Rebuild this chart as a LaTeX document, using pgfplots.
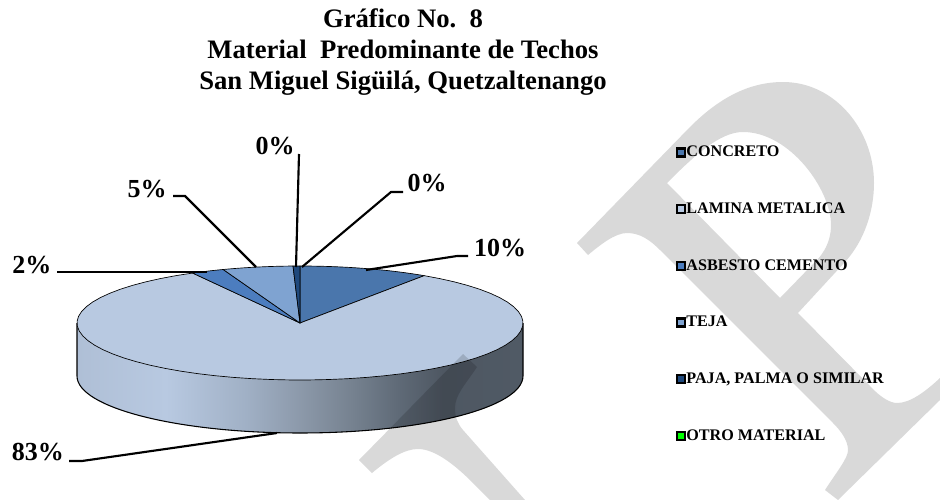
\documentclass[border=0pt]{standalone}
\usepackage{fontspec}
\setmainfont{Liberation Serif}
\usepackage{pgfplots}
\pgfplotsset{compat=1.18}

\definecolor{cConcreto}{HTML}{4A76AC}
\definecolor{cLamina}{HTML}{B8C9E1}
\definecolor{cAsbesto}{HTML}{4C7DBF}
\definecolor{cTeja}{HTML}{7FA3D1}
\definecolor{cPaja}{HTML}{1F497D}
\definecolor{cOtro}{HTML}{00FF00}
\definecolor{cMark}{HTML}{D9D9D9}
\definecolor{sA}{HTML}{A0B0C5}
\definecolor{sB}{HTML}{8C99AA}
\definecolor{sC}{HTML}{75818F}
\definecolor{sD}{HTML}{5F6A77}
\definecolor{sE}{HTML}{4E5762}
\definecolor{sF}{HTML}{505A65}

\pgfdeclarehorizontalshading{pieside}{100bp}{
  color(0bp)=(cLamina!95!black);
  color(25bp)=(cLamina!95!black);
  color(35bp)=(cLamina);
  color(44bp)=(sA);
  color(50bp)=(sB);
  color(56bp)=(sC);
  color(61bp)=(sD);
  color(66bp)=(sE);
  color(75bp)=(sF);
  color(100bp)=(sF)
}

% one slice, from and to in percent, clockwise from the top
\newcommand{\slice}[3]{
  \addplot[fill=#1, draw=black, line width=0.5pt, domain={90-3.6*#3}:{90-3.6*#2}, samples=61, variable=\t]
    ({300+223*cos(\t)},{323-57*sin(\t)}) -- (axis cs:300,323) -- cycle;
}
\newcommand{\leader}[1]{\addplot[black, line width=1.6pt, forget plot] coordinates {#1};}
\newcommand{\plabel}[2]{\node[font=\fontsize{19.5}{19.5}\selectfont\bfseries, anchor=center] at (axis cs:#1) {#2};}

\begin{document}
\begin{tikzpicture}
\begin{axis}[
  scale only axis, width=705pt, height=375pt,
  xmin=0, xmax=940, ymin=0, ymax=500, y dir=reverse,
  hide axis, clip=false,
  legend cell align=left,
  legend style={at={(axis cs:676,146)}, anchor=north west, draw=none, fill=none, inner sep=0pt, outer sep=0pt,
    row sep=33pt, font=\fontsize{12.1}{12.1}\selectfont\bfseries,
    nodes={inner sep=0pt, outer sep=0pt}},
  legend image code/.code={\draw[#1, draw=black, line width=1.8pt] (0.75pt,-3pt) rectangle (6.75pt,3pt);},
]
\path (axis cs:0,0) rectangle (axis cs:940,500);

% side wall of the disc
\begin{scope}
  \clip (axis cs:77,323) -- (axis cs:77,376) arc[start angle=180, end angle=360, x radius=167.25pt, y radius=42.75pt]
    -- (axis cs:523,323) -- cycle;
  \shade[shading=pieside] (axis cs:77,323) rectangle (axis cs:523,440);
\end{scope}
\draw[black, line width=0.8pt] (axis cs:77,323) -- (axis cs:77,376) arc[start angle=180, end angle=360, x radius=167.25pt, y radius=42.75pt]
    -- (axis cs:523,323);

\slice{cConcreto}{0}{9.4}
\addlegendentry{CONCRETO}
\slice{cLamina}{9.4}{92.0}
\addlegendentry{LAMINA METALICA}
\slice{cAsbesto}{92.0}{94.4}
\addlegendentry{ASBESTO CEMENTO}
\slice{cTeja}{94.4}{99.5}
\addlegendentry{TEJA}
\slice{cPaja}{99.5}{100}
\addlegendentry{PAJA, PALMA O SIMILAR}
\addplot[fill=cOtro, draw=black] coordinates {(300,266)};
\addlegendentry{OTRO MATERIAL}

% watermark
\fill[cMark, even odd rule, blend mode=multiply]
  (axis cs:577,243) -- (axis cs:690,127) .. controls (axis cs:720,97) and (axis cs:750,82) .. (axis cs:783,82)
  .. controls (axis cs:835,82) and (axis cs:874,130) .. (axis cs:874,183)
  .. controls (axis cs:874,210) and (axis cs:865,240) .. (axis cs:845,262)
  -- (axis cs:798,313) -- (axis cs:870,386) .. controls (axis cs:880,397) and (axis cs:890,403) .. (axis cs:897,403)
  .. controls (axis cs:910,403) and (axis cs:925,392) .. (axis cs:940,378)
  -- (axis cs:940,400) -- (axis cs:838,500) -- (axis cs:825,490)
  .. controls (axis cs:838,470) and (axis cs:848,458) .. (axis cs:848,450)
  .. controls (axis cs:848,440) and (axis cs:840,430) .. (axis cs:833,423)
  -- (axis cs:660,250) .. controls (axis cs:650,240) and (axis cs:640,233) .. (axis cs:627,233)
  .. controls (axis cs:615,233) and (axis cs:600,245) .. (axis cs:588,255) -- cycle
  (axis cs:667,183) .. controls (axis cs:695,155) and (axis cs:720,132) .. (axis cs:743,132)
  .. controls (axis cs:790,132) and (axis cs:831,190) .. (axis cs:831,225)
  .. controls (axis cs:831,245) and (axis cs:820,258) .. (axis cs:812,265)
  -- (axis cs:780,298) -- cycle;
\fill[cMark, blend mode=multiply]
  (axis cs:463,354) -- (axis cs:477,367) .. controls (axis cs:465,385) and (axis cs:455,395) .. (axis cs:455,408)
  .. controls (axis cs:455,418) and (axis cs:458,424) .. (axis cs:463,430)
  -- (axis cs:525,500) -- (axis cs:490,500) -- (axis cs:473,483)
  .. controls (axis cs:455,465) and (axis cs:435,449) .. (axis cs:418,449)
  .. controls (axis cs:405,449) and (axis cs:390,458) .. (axis cs:372,473) -- (axis cs:359,460) -- cycle;

% leader lines
\leader{(366,270) (457,256) (468,256)}
\leader{(302,267) (391,192) (403,192)}
\leader{(296,267) (299,154)}
\leader{(256,267) (185,196) (173,196)}
\leader{(207,272) (57,272)}
\leader{(277,433) (82,461) (69,461)}

\plabel{500,248}{10\%}
\plabel{427,183}{0\%}
\plabel{275,146}{0\%}
\plabel{147,189}{5\%}
\plabel{32,265}{2\%}
\plabel{38,452}{83\%}

\node[font=\fontsize{20}{23}\selectfont\bfseries, align=center, anchor=center] at (axis cs:403,52)
  {Gráfico No.\ \ 8\\Material\ \ Predominante de Techos\\San Miguel Sigüilá, Quetzaltenango};
\end{axis}
\end{tikzpicture}
\end{document}
